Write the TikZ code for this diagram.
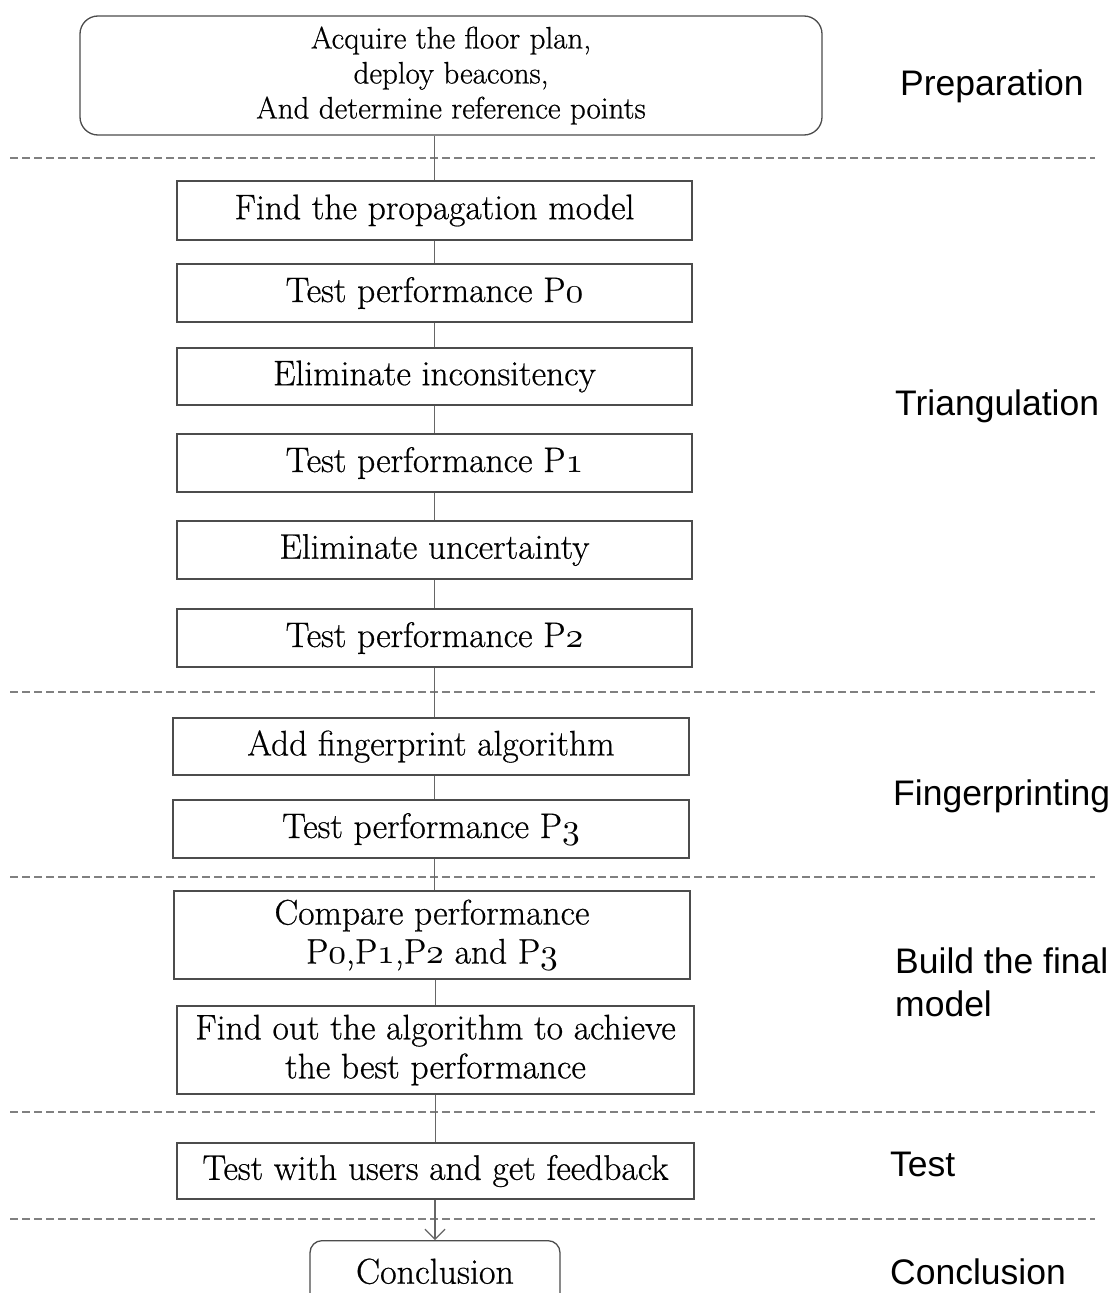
\documentclass[tikz,border=0pt]{standalone}
\usepackage{fontspec}
\newfontfamily\lsans{Liberation Sans}
\newfontfamily\bxf{Latin Modern Roman}[FakeBold=0.6]
\usetikzlibrary{arrows.meta}
\DeclareFontShape{OML}{cmm}{m}{it}{<->cmmi10}{}
\newcommand\od[1]{$\mathnormal{#1}$}
\begin{document}
\begin{tikzpicture}[x=1pt,y=-1pt,
 box/.style={draw=black!70, line width=1.3pt, fill=white, inner sep=0pt, align=center, font=\bxf\fontsize{35.5}{39}\selectfont},
 sep/.style={draw=black!50, line width=1.3pt, dash pattern=on 8pt off 4pt},
 conn/.style={draw=black!60, line width=1.2pt},
 lab/.style={anchor=base west, font=\lsans\fontsize{35.5}{43}\selectfont, inner sep=0pt, align=left}]
\useasboundingbox (0,0) rectangle (1116,1293);
\clip (0,0) rectangle (1116,1293);
\fill[white] (0,0) rectangle (1116,1293);

% separators
\foreach \yy/\nm in {158/s1,692/s2,877/s3,1112/s4,1219/s5}{
  \coordinate (\nm a) at (10,\yy);
  \coordinate (\nm b) at (1095,\yy);
  \draw[sep] (\nm a) -- (\nm b);
}

% boxes
\node[box, rounded corners=18pt, minimum width=742pt, minimum height=119pt, font=\bxf\fontsize{31}{35}\selectfont] (top) at (451,75.5)
  {Acquire the floor plan,\\deploy beacons,\\And determine reference points};
\node[box, minimum width=515pt, minimum height=59pt] (b1) at (434.5,210.5) {Find the propagation model};
\node[box, minimum width=515pt, minimum height=58pt] (b2) at (434.5,293) {Test performance P\od{0}};
\node[box, minimum width=515pt, minimum height=57pt] (b3) at (434.5,376.5) {Eliminate inconsitency};
\node[box, minimum width=515pt, minimum height=58pt] (b4) at (434.5,463) {Test performance P\od{1}};
\node[box, minimum width=515pt, minimum height=58pt] (b5) at (434.5,550) {Eliminate uncertainty};
\node[box, minimum width=515pt, minimum height=58pt] (b6) at (434.5,638) {Test performance P\od{2}};
\node[box, minimum width=516pt, minimum height=57pt] (b7) at (431,746.5) {Add fingerprint algorithm};
\node[box, minimum width=516pt, minimum height=58pt] (b8) at (431,829) {Test performance P\od{3}};
\node[box, minimum width=516pt, minimum height=88pt] (b9) at (432,935) {Compare performance\\P\od{0},P\od{1},P\od{2} and P\od{3}};
\node[box, minimum width=517pt, minimum height=88pt] (b10) at (435.5,1050) {Find out the algorithm to achieve\\the best performance};
\node[box, minimum width=517pt, minimum height=56pt] (b11) at (435.5,1171) {Test with users and get feedback};
\node[box, rounded corners=12pt, minimum width=250pt, inner ysep=19pt, text height=24pt, text depth=40pt, anchor=north, font=\bxf\fontsize{36}{40}\selectfont] (concl) at (435,1240) {Conclusion};

% connectors
\draw[conn] (b1.north |- top.south) -- (b1.north);
\draw[conn] (b1) -- (b2);
\draw[conn] (b2) -- (b3);
\draw[conn] (b3) -- (b4);
\draw[conn] (b4) -- (b5);
\draw[conn] (b5) -- (b6);
\draw[conn] (b6.south) -- (b6.south |- b7.north);
\draw[conn] (b7.south -| b6.south) -- (b6.south |- b8.north);
\draw[conn] (b8.south -| b6.south) -- (b6.south |- b9.north);
\draw[conn] (b9.south -| b10.south) -- (b10.north);
\draw[conn] (b10) -- (b11);
\draw[conn, -{Straight Barb[length=10pt,width=20pt]}] (b11.south -| concl.north) -- (concl.north);

% phase labels
\node[lab] (lprep) at (900,95) {Preparation};
\node[lab] (ltri) at (895,415) {Triangulation};
\node[lab] (lfin) at (893,805) {Fingerprinting};
\node[lab] (lbuild) at (895,973) {Build the final};
\node[lab] (lmodel) at (895,1016) {model};
\node[lab] (ltest) at (890,1176) {Test};
\node[lab] (lconc) at (890,1284) {Conclusion};
\end{tikzpicture}
\end{document}
